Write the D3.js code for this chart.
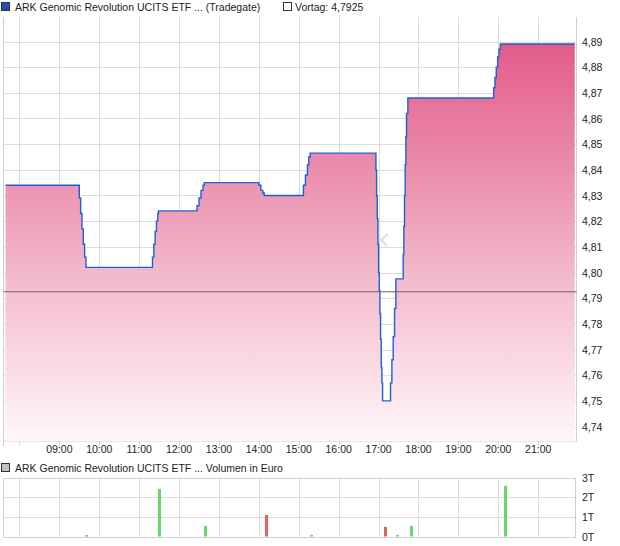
<!DOCTYPE html>
<html>
<head>
<meta charset="utf-8">
<script src="https://cdnjs.cloudflare.com/ajax/libs/d3/7.8.5/d3.min.js"></script>
<style>
body{margin:0;background:#fff;}
text{font-family:"Liberation Sans",Arial,sans-serif;font-size:10.5px;fill:#222;}
</style>
</head>
<body>
<svg id="mainSvg" width="620" height="546"></svg>
<script>
var priceTimes = ["07:39","09:29","09:30","09:32","09:34","09:36","09:38","09:40",
	"11:19","11:20","11:22","11:24","11:26","11:28","11:29",
	"12:27","12:30","12:33","12:36","12:38",
	"13:59","14:00","14:03","14:06","14:08",
	"15:06","15:07","15:10","15:13","15:15","15:17",
	"16:56","16:57","16:58","16:59","17:00","17:01","17:02","17:03","17:04","17:05","17:06",
	"17:16","17:18","17:20","17:22","17:24","17:26",
	"17:37","17:38","17:39","17:40","17:41","17:42","17:44",
	"19:53","19:55","19:57","19:59","20:01","20:03","21:55"];
var priceValues = [4.834,4.834,4.829,4.823,4.817,4.811,4.806,4.802,
	4.802,4.806,4.811,4.816,4.820,4.823,4.824,
	4.826,4.829,4.832,4.834,4.835,
	4.835,4.834,4.832,4.831,4.830,
	4.830,4.834,4.838,4.842,4.845,4.8465,
	4.840,4.830,4.821,4.811,4.800,4.793,4.784,4.774,4.763,4.757,4.750,
	4.750,4.757,4.766,4.775,4.786,4.7975,
	4.807,4.818,4.830,4.842,4.853,4.862,4.868,
	4.872,4.876,4.880,4.884,4.887,4.889,4.889];
var prevClose = 4.7925;
var priceTicks = [4.74,4.75,4.76,4.77,4.78,4.79,4.80,4.81,4.82,4.83,4.84,4.85,4.86,4.87,4.88,4.89];
var hourTicks = [8,9,10,11,12,13,14,15,16,17,18,19,20,21];
var hourLabels = ["","09:00","10:00","11:00","12:00","13:00","14:00","15:00","16:00","17:00","18:00","19:00","20:00","21:00"];
var volTimes = ["09:40","11:30","12:39","14:10","15:19","17:09","17:28","17:48","20:10"];
var volValues = [0.06,2.42,0.54,1.1,0.08,0.49,0.08,0.54,2.57];
var volUp = [false,true,true,false,true,false,true,true,true];
var volTicks = [0,1,2,3];
var volLabels = ["0T","1T","2T","3T"];

var plotL = 3.5, plotR = 576.5;
var mainTop = 17, mainBottom = 441;
var volTop = 477.5, volBottom = 536.5;

function toHours(s)
{
	var p = s.split(":");
	return +p[0] + p[1] / 60;
}

var mainSvg = d3.select("#mainSvg");
var x = d3.scaleLinear().domain([7.6, 21.96]).range([plotL, plotR]);
var y = d3.scaleLinear().domain([4.74, 4.89]).range([426.5, 41.5]);
var yv = d3.scaleLinear().domain([0, 3]).range([volBottom, volTop]);

var priceData = priceTimes.map(function(t, i) {
	return {t: toHours(t), v: priceValues[i]};
});

// gradient for the area
var grad = mainSvg.append("defs").append("linearGradient").attr("id", "areaGrad")
	.attr("gradientUnits", "userSpaceOnUse").attr("x1", 0).attr("x2", 0).attr("y1", 41).attr("y2", mainBottom);
grad.append("stop").attr("offset", 0).attr("stop-color", "#e15a88");
grad.append("stop").attr("offset", 0.55).attr("stop-color", "#f2b3c8");
grad.append("stop").attr("offset", 1).attr("stop-color", "#fff7fa");

// legend
mainSvg.append("rect").attr("x", 1.5).attr("y", 2.5).attr("width", 8).attr("height", 8).attr("fill", "#1f4fb0").attr("stroke", "#333").attr("stroke-width", 1);
mainSvg.append("text").attr("x", 15).attr("y", 10.5).text("ARK Genomic Revolution UCITS ETF ... (Tradegate)");
mainSvg.append("rect").attr("x", 283.5).attr("y", 2.5).attr("width", 8).attr("height", 8).attr("fill", "#fff").attr("stroke", "#333").attr("stroke-width", 1);
mainSvg.append("text").attr("x", 295).attr("y", 10.5).text("Vortag: " + d3.format(".4f")(prevClose).replace(".", ","));

// main grid
var grid = mainSvg.append("g").attr("stroke", "#dcdcdc").attr("stroke-width", 1);
grid.selectAll("line.h").data(priceTicks).enter().append("line").attr("class", "h")
	.attr("x1", plotL).attr("x2", plotR)
	.attr("y1", function(d) { return Math.round(y(d)) + 0.5; })
	.attr("y2", function(d) { return Math.round(y(d)) + 0.5; });
grid.selectAll("line.v").data(hourTicks).enter().append("line").attr("class", "v")
	.attr("x1", function(d) { return Math.round(x(d)) + 0.5; })
	.attr("x2", function(d) { return Math.round(x(d)) + 0.5; })
	.attr("y1", mainTop).attr("y2", mainBottom + 5);
mainSvg.append("path").attr("d", "M" + plotL + "," + mainTop + "V" + (mainBottom + 5) + "M" + plotL + "," + mainBottom + "H" + plotR + "M" + plotR + "," + mainTop + "V" + mainBottom)
	.attr("fill", "none").attr("stroke", "#cfcfcf");

// area + line
var area = d3.area().curve(d3.curveStepAfter)
	.x(function(d) { return x(d.t); })
	.y0(mainBottom)
	.y1(function(d) { return y(d.v); });
var line = d3.line().curve(d3.curveStepAfter)
	.x(function(d) { return x(d.t); })
	.y(function(d) { return y(d.v); });
mainSvg.append("path").datum(priceData).attr("d", area).attr("fill", "url(#areaGrad)");

// little nav chevron
mainSvg.append("path").attr("d", "M388,234L381,240L387,246").attr("fill", "none").attr("stroke", "#e4e0dc").attr("stroke-width", 2.5);

mainSvg.append("line").attr("x1", plotL).attr("x2", plotR)
	.attr("y1", y(prevClose)).attr("y2", y(prevClose))
	.attr("stroke", "#6a6a6a").attr("stroke-width", 1);
mainSvg.append("path").datum(priceData).attr("d", line).attr("fill", "none").attr("stroke", "#1f5fd6").attr("stroke-width", 1.4);

// axis labels
mainSvg.selectAll("text.py").data(priceTicks).enter().append("text").attr("class", "py")
	.attr("x", 582).attr("y", function(d) { return y(d) + 4; })
	.text(function(d) { return d3.format(".2f")(d).replace(".", ","); });
mainSvg.selectAll("text.hx").data(hourTicks).enter().append("text").attr("class", "hx")
	.attr("x", function(d) { return x(d); }).attr("y", 453)
	.attr("text-anchor", "middle")
	.text(function(d, i) { return hourLabels[i]; });

// volume chart
mainSvg.append("rect").attr("x", 1.5).attr("y", 463.5).attr("width", 8).attr("height", 8).attr("fill", "#c0c0c0").attr("stroke", "#333").attr("stroke-width", 1);
mainSvg.append("text").attr("x", 15).attr("y", 471.5).text("ARK Genomic Revolution UCITS ETF ... Volumen in Euro");

var vgrid = mainSvg.append("g").attr("stroke", "#dcdcdc").attr("stroke-width", 1);
vgrid.selectAll("line.h").data(volTicks).enter().append("line").attr("class", "h")
	.attr("x1", plotL).attr("x2", plotR - 1)
	.attr("y1", function(d) { return Math.round(yv(d)) + 0.5; })
	.attr("y2", function(d) { return Math.round(yv(d)) + 0.5; });
vgrid.selectAll("line.v").data(hourTicks).enter().append("line").attr("class", "v")
	.attr("x1", function(d) { return Math.round(x(d)) + 0.5; })
	.attr("x2", function(d) { return Math.round(x(d)) + 0.5; })
	.attr("y1", volTop).attr("y2", volBottom);
mainSvg.append("rect").attr("x", plotL).attr("y", Math.round(volTop) + 0.5).attr("width", plotR - 1 - plotL).attr("height", Math.round(volBottom) - Math.round(volTop))
	.attr("fill", "none").attr("stroke", "#cfcfcf");

mainSvg.selectAll("rect.vol").data(volValues).enter().append("rect").attr("class", "vol")
	.attr("x", function(d, i) { return Math.round(x(toHours(volTimes[i]))) - 1; })
	.attr("width", 3)
	.attr("y", function(d) { return yv(d); })
	.attr("height", function(d) { return yv(0) - yv(d); })
	.attr("fill", function(d, i) { return volUp[i] ? "#66d966" : "#dc6464"; });

mainSvg.selectAll("text.vy").data(volTicks).enter().append("text").attr("class", "vy")
	.attr("x", 582).attr("y", function(d) { return yv(d) + 4; })
	.text(function(d, i) { return volLabels[i]; });
</script>
</body>
</html>
